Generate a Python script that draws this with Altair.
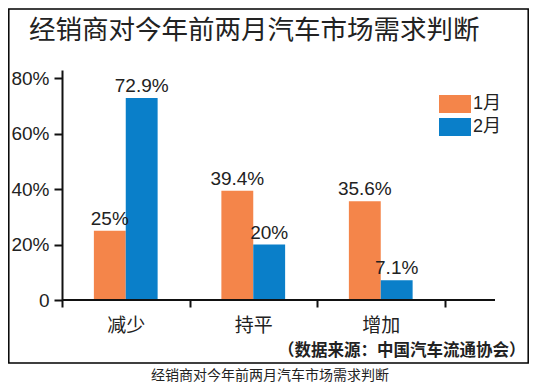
import altair as alt
import pandas as pd

title_text = "经销商对今年前两月汽车市场需求判断"
source_text = "（数据来源：中国汽车流通协会）"
caption_text = "经销商对今年前两月汽车市场需求判断"
categories = ["减少", "持平", "增加"]
months = ["1月", "2月"]
jan_values = [25, 39.4, 35.6]
feb_values = [72.9, 20, 7.1]
colors = ["#F4854A", "#0A7FC9"]
y_ticks = [0, 20, 40, 60, 80]

rows = []
for i, c in enumerate(categories):
    rows.append({"cat": c, "month": months[0], "value": jan_values[i]})
    rows.append({"cat": c, "month": months[1], "value": feb_values[i]})
df = pd.DataFrame(rows)

W, H = 433, 230
NUM_FONT = "Liberation Sans"
CJK = "Noto Sans CJK SC"
MIX = "Liberation Sans, Noto Sans CJK SC"
INK = "#222222"

x_enc = alt.X(
    "cat:N", sort=categories,
    scale=alt.Scale(range=[0, 382.5], paddingInner=0, paddingOuter=0),
    axis=alt.Axis(title=None, domain=False, labelAngle=0, labelFont=CJK,
                  labelFontSize=19, labelColor=INK, labelPadding=9,
                  tickBand="extent", tickSize=7, tickWidth=2, tickColor="#111111",
                  grid=False),
)
y_enc = alt.Y(
    "value:Q",
    scale=alt.Scale(domain=[0, 83], nice=False, zero=True),
    axis=alt.Axis(title=None, values=y_ticks, grid=False,
                  labelExpr="datum.value == 0 ? '0' : datum.value + '%'",
                  labelFont=NUM_FONT, labelFontSize=19, labelColor=INK,
                  labelPadding=5, tickSize=8, tickWidth=2, tickColor="#111111",
                  domainColor="#111111", domainWidth=2),
)
xoff = alt.XOffset("month:N", sort=months,
                   scale=alt.Scale(paddingInner=0, paddingOuter=1))
color = alt.Color("month:N", sort=months,
                  scale=alt.Scale(domain=months, range=colors), legend=None)

base = alt.Chart(df)
bars = base.mark_bar().encode(x=x_enc, xOffset=xoff, y=y_enc, color=color)
labels = base.transform_calculate(lab="datum.value + '%'").mark_text(
    baseline="alphabetic", dy=-6, font=NUM_FONT, fontSize=19, color=INK
).encode(x=alt.X("cat:N", sort=categories), xOffset=xoff, y="value:Q", text="lab:N")

one = pd.DataFrame({"t": [""]})

border = alt.Chart(one).mark_rect(fill=None, stroke="#000000", strokeWidth=1.5).encode(
    x=alt.value(-53.2), x2=alt.value(466.2), y=alt.value(-61), y2=alt.value(293))

baseline_rule = alt.Chart(one).mark_rule(color="#111111", strokeWidth=2).encode(
    x=alt.value(0), x2=alt.value(433), y=alt.value(H))

title_mark = alt.Chart(pd.DataFrame({"t": [title_text]})).mark_text(
    align="left", baseline="alphabetic", font=CJK, fontSize=26.5, color=INK
).encode(text="t:N", x=alt.value(-33), y=alt.value(-31))

source_mark = alt.Chart(pd.DataFrame({"t": [source_text]})).mark_text(
    align="left", baseline="middle", font=CJK, fontSize=16.5, fontWeight="bold", color=INK
).encode(text="t:N", x=alt.value(216), y=alt.value(281))

caption_mark = alt.Chart(pd.DataFrame({"t": [caption_text]})).mark_text(
    align="center", baseline="alphabetic", font=CJK, fontSize=14, color=INK
).encode(text="t:N", x=alt.value(208), y=alt.value(309.5))

legend_layers = []
for i, m in enumerate(months):
    mdf = pd.DataFrame({"t": [m]})
    legend_layers.append(
        alt.Chart(mdf).mark_rect(color=colors[i]).encode(
            x=alt.value(377), x2=alt.value(409),
            y=alt.value(25 + 23 * i), y2=alt.value(43 + 23 * i))
    )
    legend_layers.append(
        alt.Chart(mdf).mark_text(align="left", baseline="middle", font=MIX,
                                 fontSize=18, color=INK).encode(
            text="t:N", x=alt.value(411), y=alt.value(34 + 23 * i))
    )

chart = alt.layer(
    border, bars, labels, baseline_rule, title_mark, source_mark, caption_mark,
    *legend_layers
).properties(
    width=W, height=H,
    autosize=alt.AutoSizeParams(type="none"),
    padding={"left": 54, "top": 62, "right": 34, "bottom": 84},
    background="white",
).configure_view(stroke=None)

chart.save("out.html", embed_options={"renderer": "svg", "actions": False})
